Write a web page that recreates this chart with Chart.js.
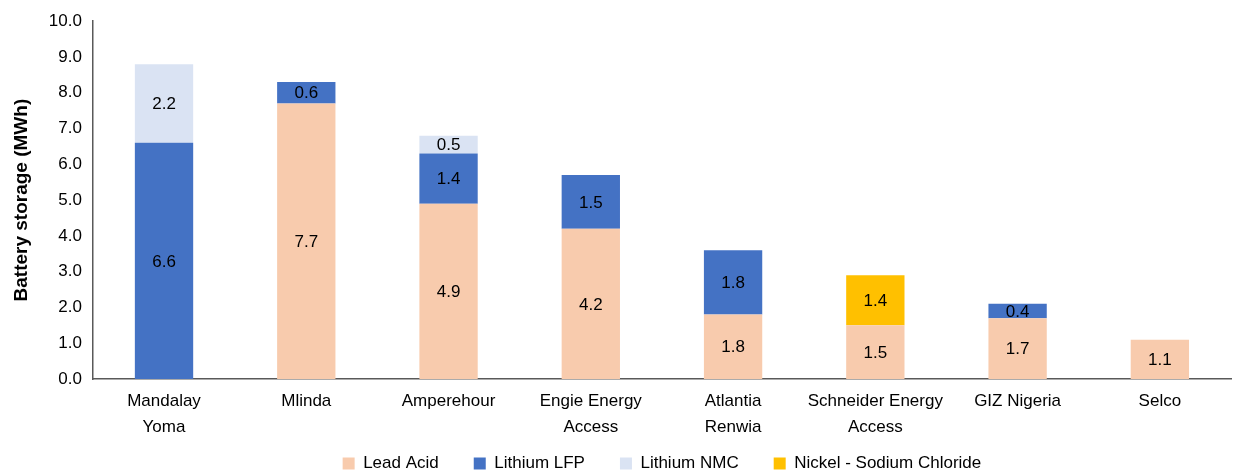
<!doctype html>
<html lang="en">
  <head>
    <title>Battery storage</title>
    <style>
      body { margin: 0; background: #fff; }
    </style>
  </head>
  <body>
    <canvas id="battery" width="1233" height="476"></canvas>
  </body>
  <script src="https://cdn.jsdelivr.net/npm/chart.js"></script>
<script>
  const companies = [["Mandalay", "Yoma"], "Mlinda", "Amperehour", ["Engie Energy", "Access"], ["Atlantia", "Renwia"], ["Schneider Energy", "Access"], "GIZ Nigeria", "Selco"];
  const leadAcid = [0, 7.7, 4.9, 4.2, 1.8, 1.5, 1.7, 1.1];
  const lithiumLFP = [6.6, 0.6, 1.4, 1.5, 1.8, 0, 0.4, 0];
  const lithiumNMC = [2.2, 0, 0.5, 0, 0, 0, 0, 0];
  const nickelSodium = [0, 0, 0, 0, 0, 1.4, 0, 0];
  const yTicks = [0, 1, 2, 3, 4, 5, 6, 7, 8, 9, 10];

  const font = "'Liberation Sans', Arial, sans-serif";
  Chart.defaults.font.family = font;
  Chart.defaults.color = "#000";

  // writes each segment's value in its middle
  const segmentLabels = {
    id: "segmentLabels",
    afterDatasetsDraw(chart) {
      const ctx = chart.ctx;
      ctx.save();
      ctx.font = "17px " + font;
      ctx.fillStyle = "#000";
      ctx.textAlign = "center";
      ctx.textBaseline = "middle";
      chart.data.datasets.forEach((ds, i) => {
        const meta = chart.getDatasetMeta(i);
        meta.data.forEach((bar, j) => {
          const v = ds.data[j];
          if (!v) return;
          ctx.fillText(v.toFixed(1), bar.x, (bar.y + bar.base) / 2 + 1);
        });
      });
      ctx.restore();
    }
  };

  // centre the legend under the plot area and sit it just above the bottom edge
  const legendUnderPlot = {
    id: "legendUnderPlot",
    afterLayout(chart) {
      const lg = chart.legend;
      lg.left = chart.chartArea.left;
      const itemMid = lg.top + 35 + 8;
      lg.top -= itemMid - 463;
    }
  };

  function series(label, data, color) {
    return {
      label: label,
      data: data,
      backgroundColor: color,
      borderWidth: 0,
      categoryPercentage: 1,
      barPercentage: 0.41
    };
  }

  new Chart(document.getElementById("battery"), {
    type: "bar",
    plugins: [segmentLabels, legendUnderPlot],
    data: {
      labels: companies,
      datasets: [
        series("Lead Acid", leadAcid, "#F8CBAD"),
        series("Lithium LFP", lithiumLFP, "#4472C4"),
        series("Lithium NMC", lithiumNMC, "#DAE3F3"),
        series("Nickel - Sodium Chloride", nickelSodium, "#FFC000")
      ]
    },
    options: {
      responsive: false,
      animation: false,
      layout: { padding: { top: -1, right: 2, left: 5, bottom: -36 } },
      scales: {
        x: {
          stacked: true,
          grid: { display: false, drawTicks: false },
          border: { color: "#595959", width: 1.5 },
          ticks: { font: { size: 17, lineHeight: 1.5 }, padding: 10, maxRotation: 0, autoSkip: false }
        },
        y: {
          stacked: true,
          min: 0,
          max: 10,
          afterBuildTicks(axis) { axis.ticks = yTicks.map(v => ({ value: v })); },
          grid: { display: false, drawTicks: false },
          border: { color: "#595959", width: 1.5 },
          ticks: { font: { size: 17 }, padding: 11, autoSkip: false, callback: v => v.toFixed(1) },
          title: { display: true, text: "Battery storage (MWh)", font: { size: 19, weight: "bold" }, padding: 5 }
        }
      },
      plugins: {
        legend: {
          position: "bottom",
          labels: { boxWidth: 12, boxHeight: 12, padding: 35, font: { size: 17 } }
        },
        tooltip: { enabled: false }
      }
    }
  });
</script>
</html>
